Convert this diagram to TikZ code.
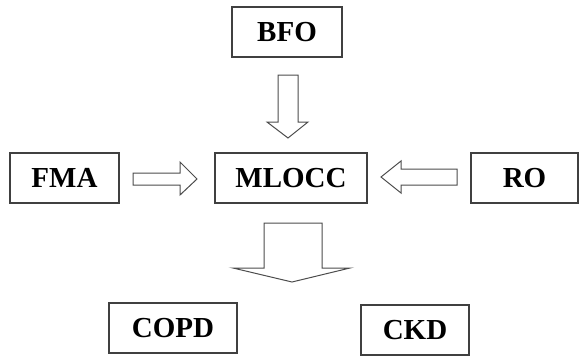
\documentclass[tikz,border=0pt]{standalone}
\usepackage{fontspec}
\setmainfont{Liberation Serif}
\begin{document}
\begin{tikzpicture}[x=1pt,y=-1pt,
  box/.style={draw=black!75, line width=1.1pt, inner sep=0pt, minimum height=50pt,
    font=\bfseries\fontsize{29}{31}\selectfont, text=black},
  blockarrow/.style={draw=black!70, line width=1pt, fill=white, line join=miter}]
\useasboundingbox (0,0) rectangle (579,360);
\node[box, minimum width=110pt] (bfo) at (287,32) {BFO};
\node[box, minimum width=152pt] (mlocc) at (291,178) {MLOCC};
\node[box, minimum width=109pt] (fma) at (64.5,178) {FMA};
\node[box, minimum width=107pt] (ro) at (524.5,178) {RO};
\node[box, minimum width=128pt] (copd) at (173,328) {COPD};
\node[box, minimum width=108pt] (ckd) at (415,330) {CKD};
% BFO -> MLOCC
\draw[blockarrow] (278,75) -- (298,75) -- (298,122) -- (308,122) -- (288,138) -- (267,122) -- (278,122) -- cycle;
% FMA -> MLOCC
\draw[blockarrow] (133,173) -- (180,173) -- (180,162) -- (197,179) -- (180,195) -- (180,185) -- (133,185) -- cycle;
% RO -> MLOCC
\draw[blockarrow] (457,169) -- (401,169) -- (401,161) -- (381,177) -- (401,193) -- (401,185) -- (457,185) -- cycle;
% MLOCC -> COPD, CKD
\draw[blockarrow] (264,223) -- (322,223) -- (322,268) -- (350,268) -- (292,282) -- (233,268) -- (264,268) -- cycle;
\end{tikzpicture}
\end{document}
